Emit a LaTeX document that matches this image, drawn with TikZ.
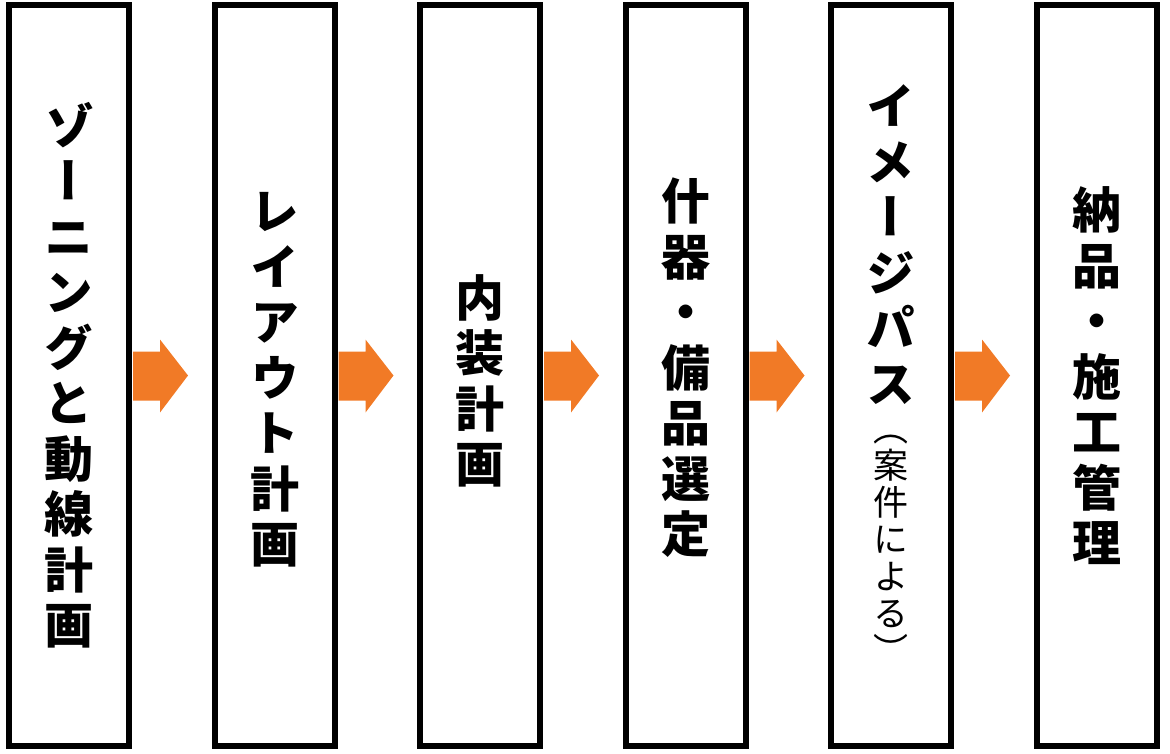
\documentclass[tikz,border=0pt]{standalone}
\usepackage{fontspec}
\newfontfamily\jpv[RawFeature=+vert]{Noto Sans CJK JP}
\usetikzlibrary{calc}
\definecolor{arrowor}{RGB}{241,122,38}
\begin{document}
\begin{tikzpicture}[x=1pt,y=-1pt,
  stage/.style={draw=black,line width=6pt,minimum width=120pt,minimum height=741pt,inner sep=0pt},
  vtext/.style={align=center,inner sep=0pt,font=\jpv\bfseries\fontsize{49}{55.5}\selectfont},
  vsmall/.style={align=center,inner sep=0pt,font=\jpv\fontsize{35}{37}\selectfont},
  flowarrow/.style={fill=arrowor,draw=none}]
\useasboundingbox (0,0) rectangle (1170,753);
\foreach \i in {1,...,6}{
  \node[stage] (b\i) at ({69+205.5*(\i-1)},375.5) {};
}
\node[vtext] (t1) at (69,375) {ゾ\\ー\\ニ\\ン\\グ\\と\\動\\線\\計\\画};
\node[vtext] (t2) at (274.5,380) {レ\\イ\\ア\\ウ\\ト\\計\\画};
\node[vtext] (t3) at (480,381) {内\\装\\計\\画};
\node[vtext] (t4) at (685.5,368) {什\\器\\・\\備\\品\\選\\定};
\node[vtext] (t5) at (891,244.5) {イ\\メ\\ー\\ジ\\パ\\ス};
\node[vsmall] (t5b) at (891,549) {（\\案\\件\\に\\よ\\る\\）};
\node[vtext] (t6) at (1096.5,376) {納\\品\\・\\施\\工\\管\\理};
\foreach \i/\j in {1/2,2/3,3/4,4/5,5/6}{
  \fill[flowarrow] ($(b\i.east)+(1,-24)$) -- ++(27,0) -- ++(0,-12) -- ($(b\i.east)+(56,0)$)
    -- ($(b\i.east)+(28,37)$) -- ++(0,-12) -- ($(b\i.east)+(1,25)$) -- cycle;
}
\end{tikzpicture}
\end{document}
